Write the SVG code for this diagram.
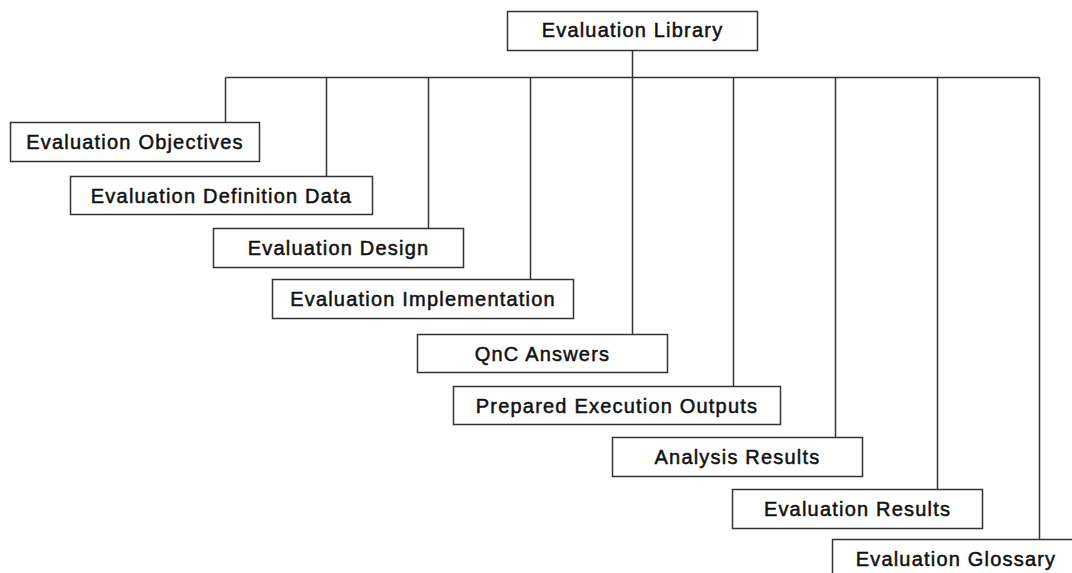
<svg xmlns="http://www.w3.org/2000/svg" width="1072" height="573" viewBox="0 0 1072 573">
<style>
.box{fill:#fff;stroke:#333;stroke-width:1.5}
.lbl{font-family:"Liberation Sans",Arial,sans-serif;font-size:20px;letter-spacing:1.2px;fill:#111;stroke:#111;stroke-width:0.5;text-anchor:middle}
.conn{stroke:#333;stroke-width:1.5;fill:none}
</style>
<rect width="1072" height="573" fill="#fff"/>
<g id="connectors">
<path class="conn" d="M632.5 50 V77.5 M225.5 77.5 H1039.5 M225.5 77.5 V122 M326.5 77.5 V176 M428.5 77.5 V228 M530.5 77.5 V279 M632.5 77.5 V334 M733.5 77.5 V386 M835.5 77.5 V437 M937.5 77.5 V489 M1039.5 77.5 V539"/>
</g>
<g id="root"><rect class="box" x="507.5" y="11.5" width="250" height="39"/><text class="lbl" x="632.5" y="37">Evaluation Library</text></g>
<g id="n1"><rect class="box" x="10.5" y="122.5" width="249" height="39"/><text class="lbl" x="135" y="148.5">Evaluation Objectives</text></g>
<g id="n2"><rect class="box" x="70.5" y="176.5" width="302" height="38"/><text class="lbl" x="221.5" y="202.5">Evaluation Definition Data</text></g>
<g id="n3"><rect class="box" x="213.5" y="228.5" width="250" height="39"/><text class="lbl" x="338.5" y="254.5">Evaluation Design</text></g>
<g id="n4"><rect class="box" x="272.5" y="279.5" width="301" height="39"/><text class="lbl" x="423" y="305.5">Evaluation Implementation</text></g>
<g id="n5"><rect class="box" x="417.5" y="334.5" width="250" height="38"/><text class="lbl" x="542.5" y="360.5">QnC Answers</text></g>
<g id="n6"><rect class="box" x="453.5" y="386.5" width="327" height="38"/><text class="lbl" x="617" y="412.5">Prepared Execution Outputs</text></g>
<g id="n7"><rect class="box" x="612.5" y="437.5" width="250" height="39"/><text class="lbl" x="737.5" y="463.5">Analysis Results</text></g>
<g id="n8"><rect class="box" x="732.5" y="489.5" width="250" height="39"/><text class="lbl" x="857.5" y="515.5">Evaluation Results</text></g>
<g id="n9"><rect class="box" x="832.5" y="539.5" width="248" height="39"/><text class="lbl" x="956" y="565.5">Evaluation Glossary</text></g>
</svg>
